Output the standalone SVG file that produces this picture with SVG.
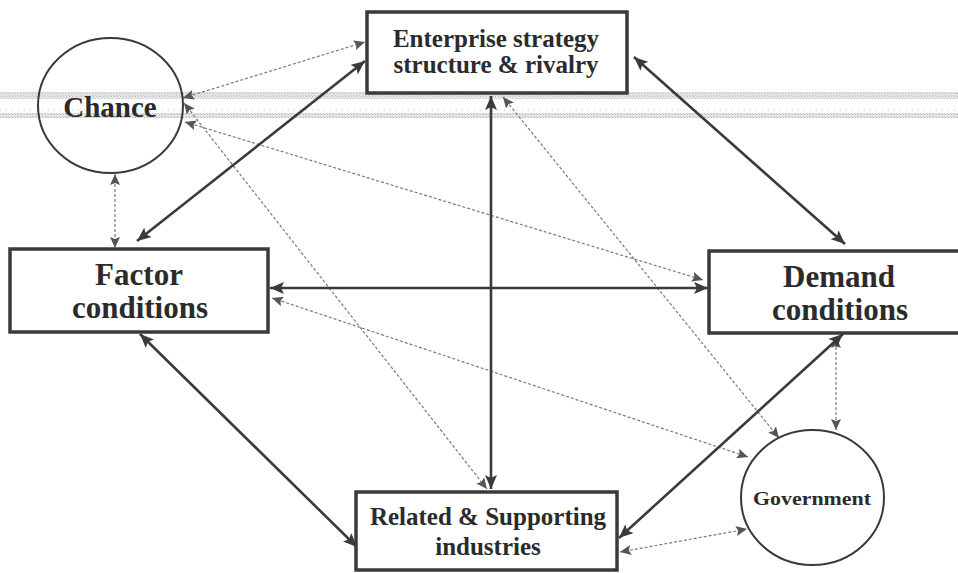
<svg xmlns="http://www.w3.org/2000/svg" width="958" height="573" viewBox="0 0 958 573">
<style>
text{font-family:"Liberation Serif","Times New Roman",serif;font-weight:bold;fill:#2b2b2b;text-anchor:middle}
.box{fill:#fff;stroke:#3a3a3a;stroke-width:3.5}
.circ{stroke:#3a3a3a;stroke-width:2}
.solid{stroke:#3a3a3a;stroke-width:2.6;fill:none;marker-start:url(#ah);marker-end:url(#ah)}
.dot{stroke:#7a7a7a;stroke-width:1.2;stroke-dasharray:3 2;fill:none;marker-start:url(#ahs);marker-end:url(#ahs)}
</style>
<defs>
<marker id="ah" viewBox="0 0 14 12" refX="14" refY="6" markerWidth="14" markerHeight="12" markerUnits="userSpaceOnUse" orient="auto-start-reverse"><path d="M0,0 L14,6 L0,12 L3,6 Z" fill="#3a3a3a"/></marker>
<marker id="ahs" viewBox="0 0 11 10" refX="11" refY="5" markerWidth="11" markerHeight="10" markerUnits="userSpaceOnUse" orient="auto-start-reverse"><path d="M0,0 L11,5 L0,10 L2,5 Z" fill="#555"/></marker>
<pattern id="stip" width="3" height="3" patternUnits="userSpaceOnUse"><rect width="3" height="3" fill="#e6e6e6"/><rect width="1" height="1" fill="#b8b8b8"/><rect x="2" y="2" width="1" height="1" fill="#c8c8c8"/></pattern>
</defs>
<rect width="958" height="573" fill="#fff"/>
<g id="band">
<rect x="0" y="92" width="958" height="7" fill="url(#stip)"/>
<line x1="0" y1="110" x2="958" y2="110" stroke="#c4c4c4" stroke-width="1" stroke-dasharray="1 5"/>
<rect x="0" y="113" width="958" height="5" fill="url(#stip)"/>
</g>
<g id="connectors">
<line class="dot" x1="183" y1="98" x2="365" y2="42"/>
<line class="dot" x1="115" y1="174" x2="115" y2="248"/>
<line class="dot" x1="185" y1="122" x2="703" y2="280"/>
<line class="dot" x1="184" y1="103" x2="487" y2="489"/>
<line class="dot" x1="503" y1="97" x2="779" y2="438"/>
<line class="dot" x1="272" y1="298" x2="748" y2="457"/>
<line class="dot" x1="836" y1="337" x2="836" y2="430"/>
<line class="dot" x1="620" y1="552" x2="747" y2="529"/>
<line class="solid" x1="137" y1="241" x2="365" y2="61"/>
<line class="solid" x1="634" y1="57" x2="845" y2="244"/>
<line class="solid" x1="270" y1="288" x2="708" y2="288"/>
<line class="solid" x1="491" y1="96" x2="491" y2="489"/>
<line class="solid" x1="140" y1="334" x2="357" y2="547"/>
<line class="solid" x1="843" y1="334" x2="619" y2="538"/>
</g>
<g id="enterprise">
<rect class="box" x="367" y="12" width="260" height="81"/>
<text x="496" y="47" font-size="25">Enterprise strategy</text>
<text x="496" y="73" font-size="25">structure &amp; rivalry</text>
</g>
<g id="chance">
<ellipse class="circ" cx="110.5" cy="105.5" rx="72.5" ry="67.5" fill="none"/>
<text x="110" y="117" font-size="29">Chance</text>
</g>
<g id="factor">
<rect class="box" x="10" y="249" width="258" height="83"/>
<text x="139" y="285" font-size="31">Factor</text>
<text x="140" y="318" font-size="31">conditions</text>
</g>
<g id="demand">
<rect class="box" x="709" y="251" width="262" height="82"/>
<text x="839" y="287" font-size="31">Demand</text>
<text x="840" y="320" font-size="31">conditions</text>
</g>
<g id="related">
<rect class="box" x="356" y="492" width="261" height="78"/>
<text x="488" y="525" font-size="25">Related &amp; Supporting</text>
<text x="488" y="555" font-size="25">industries</text>
</g>
<g id="government">
<ellipse class="circ" cx="812.5" cy="497.5" rx="71.5" ry="67.5" fill="#fff"/>
<text x="812" y="505" font-size="18" textLength="118" lengthAdjust="spacingAndGlyphs">Government</text>
</g>
</svg>
